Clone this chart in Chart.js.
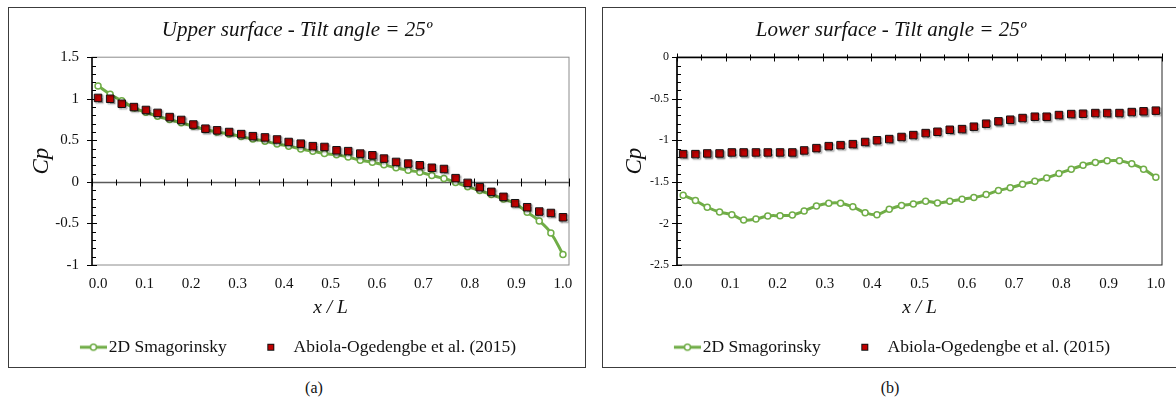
<!DOCTYPE html>
<html lang="en">
<head>
<meta charset="UTF-8">
<title>Cp distribution - tilt angle 25º</title>
<script src="https://cdn.jsdelivr.net/npm/chart.js"></script>
<style>
    body {
        margin: 0;
        width: 1176px;
        height: 401px;
        overflow: hidden;
        position: relative;
        background: #ffffff;
        font-family: "Liberation Serif", serif;
    }

    .panel {
        position: absolute;
        top: 7px;
        width: 576px;
        height: 359px;
        border: 1px solid #3c3c3c;
    }

    #panelA { left: 8px; }
    #panelB { left: 602px; }

    .caption {
        position: absolute;
        top: 379px;
        width: 40px;
        text-align: center;
        font-size: 16px;
        line-height: 18px;
        color: #111;
    }
</style>
</head>
<body>
    <div class="panel" id="panelA"><canvas id="chartA"></canvas></div>
    <div class="panel" id="panelB"><canvas id="chartB"></canvas></div>
    <div class="caption" style="left:294px">(a)</div>
    <div class="caption" style="left:870px">(b)</div>

<script>
// x / L of each sample (40 stations along the chord)
const xPos = [0.000, 0.026, 0.051, 0.077, 0.103, 0.128, 0.154, 0.179, 0.205, 0.231,
              0.256, 0.282, 0.308, 0.333, 0.359, 0.385, 0.410, 0.436, 0.462, 0.487,
              0.513, 0.538, 0.564, 0.590, 0.615, 0.641, 0.667, 0.692, 0.718, 0.744,
              0.769, 0.795, 0.821, 0.846, 0.872, 0.897, 0.923, 0.949, 0.974, 1.000];

const xTickLabels = [0.0, 0.1, 0.2, 0.3, 0.4, 0.5, 0.6, 0.7, 0.8, 0.9, 1.0];
const yTicksUpper = [-1, -0.5, 0, 0.5, 1, 1.5];
const yTicksLower = [-2.5, -2, -1.5, -1, -0.5, 0];

// (a) upper surface
const upperLes = [1.155, 1.055, 0.975, 0.89, 0.837, 0.79, 0.75, 0.71, 0.67, 0.63,
                  0.60, 0.575, 0.545, 0.515, 0.49, 0.455, 0.43, 0.395, 0.37, 0.34,
                  0.325, 0.30, 0.26, 0.237, 0.205, 0.17, 0.14, 0.115, 0.078, 0.04,
                  -0.006, -0.058, -0.105, -0.152, -0.205, -0.26, -0.365, -0.47, -0.615, -0.873];
const upperExp = [1.01, 1.00, 0.94, 0.90, 0.865, 0.83, 0.78, 0.745, 0.69, 0.64,
                  0.62, 0.60, 0.575, 0.55, 0.535, 0.51, 0.48, 0.46, 0.43, 0.42,
                  0.38, 0.37, 0.34, 0.32, 0.28, 0.24, 0.22, 0.20, 0.17, 0.155,
                  0.045, -0.012, -0.064, -0.12, -0.18, -0.257, -0.305, -0.357, -0.374, -0.426];

// (b) lower surface
const lowerLes = [-1.66, -1.725, -1.805, -1.862, -1.894, -1.958, -1.946, -1.91, -1.906, -1.898,
                  -1.85, -1.79, -1.757, -1.757, -1.80, -1.87, -1.894, -1.83, -1.785, -1.767,
                  -1.733, -1.753, -1.733, -1.709, -1.689, -1.653, -1.604, -1.572, -1.528, -1.492,
                  -1.452, -1.40, -1.347, -1.30, -1.267, -1.246, -1.246, -1.283, -1.347, -1.444];
const lowerExp = [-1.166, -1.166, -1.158, -1.158, -1.146, -1.146, -1.146, -1.146, -1.146, -1.146,
                  -1.122, -1.094, -1.07, -1.058, -1.046, -1.02, -1.0, -0.985, -0.96, -0.937,
                  -0.913, -0.897, -0.873, -0.865, -0.836, -0.80, -0.772, -0.752, -0.732, -0.716,
                  -0.716, -0.696, -0.684, -0.68, -0.672, -0.672, -0.672, -0.66, -0.651, -0.643];

const GREEN = '#70ad47';
const RED = '#c00000';
const SERIF = '"Liberation Serif", serif';

Chart.defaults.font.family = SERIF;
Chart.defaults.color = '#111';

// legend symbols: line with open circle, small filled square
function lineIcon() {
    const c = document.createElement('canvas');
    c.width = 42; c.height = 10;
    const g = c.getContext('2d');
    g.strokeStyle = GREEN; g.lineWidth = 3;
    g.beginPath(); g.moveTo(15, 5); g.lineTo(42, 5); g.stroke();
    g.fillStyle = '#fff'; g.lineWidth = 1.5;
    g.beginPath(); g.arc(28.5, 5, 3, 0, Math.PI * 2); g.fill(); g.stroke();
    return c;
}
function squareIcon() {
    const c = document.createElement('canvas');
    c.width = 9; c.height = 9;
    const g = c.getContext('2d');
    g.fillStyle = '#111'; g.fillRect(1, 1, 7, 7);
    g.fillStyle = RED; g.fillRect(2, 2, 5, 5);
    return c;
}
const legendIcons = [lineIcon(), squareIcon()];

// plot frame, axis line at Cp = 0 and tick marks
const framePlugin = {
    id: 'frame',
    afterLayout(chart, args, o) {
        if (chart.legend) { chart.legend.left += o.legendShift; chart.legend.right += o.legendShift; }
    },
    beforeDatasetsDraw(chart, args, o) {
        const {ctx, chartArea: a, scales: {x, y}} = chart;
        const seg = (x1, y1, x2, y2) => { ctx.beginPath(); ctx.moveTo(x1, y1); ctx.lineTo(x2, y2); ctx.stroke(); };
        ctx.save();
        ctx.strokeStyle = o.frameColor;
        ctx.lineWidth = 1;
        ctx.strokeRect(a.left, a.top, a.width, a.height);

        ctx.strokeStyle = '#000';
        ctx.lineWidth = 1.5;
        seg(a.left, a.top, a.left, a.bottom);
        ctx.lineWidth = 1;
        const nMinor = Math.round((y.max - y.min) / 0.1);
        for (let i = 0; i <= nMinor; i++) {
            const v = y.min + i * 0.1;
            const py = Math.round(y.getPixelForValue(v)) + 0.5;
            if (i % 5 === 0) seg(a.left - 5, py, a.left + 5, py);
            else seg(a.left, py, a.left + 4, py);
        }

        const y0 = Math.round(y.getPixelForValue(0)) + 0.5;
        ctx.strokeStyle = o.zeroColor;
        ctx.lineWidth = 1.5;
        seg(a.left, y0, a.right, y0);
        ctx.strokeStyle = '#000';
        ctx.lineWidth = 1;
        for (let k = 0; k <= 20; k++) {
            const px = Math.round(x.getPixelForValue(x.min + k * (x.max - x.min) / 20)) + 0.5;
            const len = k % 2 === 0 ? 4 : 3;
            seg(px, y0 - len, px, y0 + len);
        }
        ctx.restore();
    }
};

// soft grey shadow behind the experimental squares
const shadowPlugin = {
    id: 'markerShadow',
    beforeDatasetDraw(chart, args) {
        if (args.index !== 1) return;
        const ctx = chart.ctx;
        ctx.save();
        ctx.shadowColor = 'rgba(0,0,0,0.35)';
        ctx.shadowOffsetX = 1.5;
        ctx.shadowOffsetY = 1.5;
        ctx.shadowBlur = 1.5;
    },
    afterDatasetDraw(chart, args) {
        if (args.index === 1) chart.ctx.restore();
    }
};

function toPoints(xs, ys) {
    return xs.map((v, i) => ({x: v, y: ys[i]}));
}

function buildChart(id, o) {
    return new Chart(document.getElementById(id), {
        type: 'line',
        data: {
            datasets: [
                {
                    label: '2D Smagorinsky',
                    data: toPoints(xPos, o.les),
                    borderColor: GREEN,
                    borderWidth: 3,
                    tension: 0.4,
                    pointRadius: 3,
                    pointBackgroundColor: '#ffffff',
                    pointBorderColor: GREEN,
                    pointBorderWidth: 1.5,
                    order: 1
                },
                {
                    label: 'Abiola-Ogedengbe et al. (2015)',
                    data: toPoints(xPos, o.exp),
                    showLine: false,
                    pointStyle: 'rect',
                    pointRadius: 5.3,
                    pointBackgroundColor: RED,
                    pointBorderColor: '#111',
                    pointBorderWidth: 1,
                    order: 0
                }
            ]
        },
        options: {
            animation: false,
            responsive: true,
            maintainAspectRatio: false,
            // same padding left and right so title and legend centre on the panel
            layout: { padding: { left: o.pad, right: o.pad, top: 0, bottom: 1 } },
            plugins: {
                title: {
                    display: true,
                    text: o.title,
                    color: '#111',
                    font: { family: SERIF, size: 21, style: 'italic', weight: 'normal' },
                    padding: { top: 10, bottom: 14 }
                },
                legend: {
                    position: 'bottom',
                    labels: {
                        usePointStyle: true,
                        pointStyleWidth: 28,
                        padding: 30,
                        color: '#111',
                        font: { family: SERIF, size: 17.5 },
                        generateLabels(chart) {
                            const items = Chart.defaults.plugins.legend.labels.generateLabels(chart);
                            items.sort((p, q) => p.datasetIndex - q.datasetIndex);
                            items.forEach(it => { it.pointStyle = legendIcons[it.datasetIndex]; });
                            return items;
                        }
                    }
                },
                tooltip: { enabled: false },
                frame: { frameColor: o.frameColor, zeroColor: o.zeroColor, legendShift: o.legendShift }
            },
            scales: {
                x: {
                    type: 'linear',
                    min: -0.013,
                    max: 1.013,
                    afterBuildTicks: s => { s.ticks = xTickLabels.map(v => ({ value: v })); },
                    afterFit: s => { s.height = 43.5; },
                    grid: { display: false, drawTicks: false },
                    border: { display: false },
                    ticks: {
                        padding: 10,
                        color: '#111',
                        autoSkip: false,
                        maxRotation: 0,
                        font: { family: SERIF, size: 15 },
                        callback: v => v.toFixed(1)
                    },
                    title: {
                        display: true,
                        text: 'x / L',
                        color: '#111',
                        font: { family: SERIF, size: 19.5, style: 'italic' },
                        padding: { top: 0, bottom: -11 }
                    }
                },
                y: {
                    min: o.yMin,
                    max: o.yMax,
                    afterBuildTicks: s => { s.ticks = o.yTicks.map(v => ({ value: v })); },
                    afterFit: s => { s.width = o.yWidth; },
                    grid: { display: false, drawTicks: false },
                    border: { display: false },
                    ticks: {
                        padding: o.yPad,
                        color: '#111',
                        font: { family: SERIF, size: o.yFont },
                        callback: v => String(v)
                    },
                    title: {
                        display: true,
                        text: 'Cp',
                        color: '#111',
                        font: { family: SERIF, size: 23, style: 'italic' },
                        padding: { top: o.yTitlePad, bottom: 0 }
                    }
                }
            }
        },
        plugins: [framePlugin, shadowPlugin]
    });
}

function drawAll() {
    buildChart('chartA', {
        title: 'Upper surface - Tilt angle = 25º',
        les: upperLes, exp: upperExp,
        yMin: -1, yMax: 1.5, yTicks: yTicksUpper,
        pad: 16, yWidth: 67, yPad: 13, yFont: 15, yTitlePad: 3, legendShift: -3,
        frameColor: '#8c8c8c', zeroColor: '#595959'
    });

    buildChart('chartB', {
        title: 'Lower surface - Tilt angle = 25º',
        les: lowerLes, exp: lowerExp,
        yMin: -2.5, yMax: 0, yTicks: yTicksLower,
        pad: 17, yWidth: 57, yPad: 8, yFont: 12, yTitlePad: 1, legendShift: -3,
        frameColor: '#262626', zeroColor: '#000000'
    });
}

// make sure the serif faces are ready before the canvases use them
Promise.all([
    document.fonts.load('15px "Liberation Serif"'),
    document.fonts.load('italic 19px "Liberation Serif"')
]).then(drawAll, drawAll);
</script>
</body>
</html>
